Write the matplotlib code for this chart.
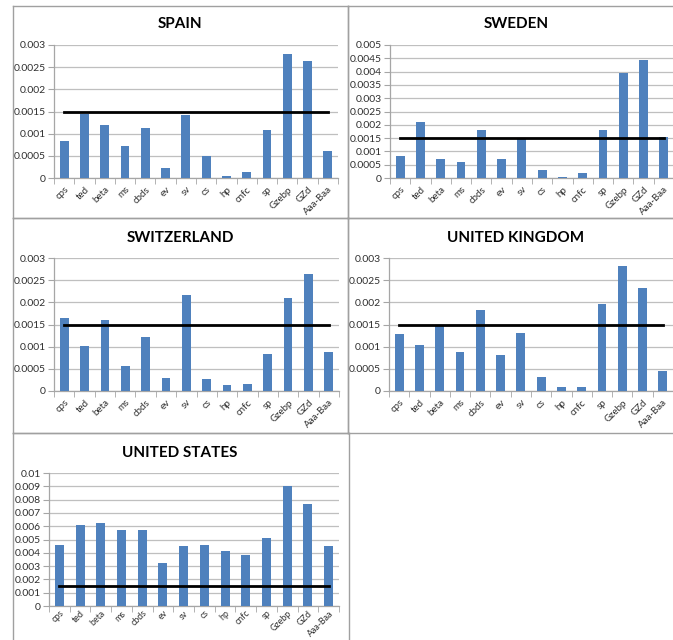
import matplotlib
matplotlib.use("Agg")
import matplotlib.pyplot as plt
from matplotlib.lines import Line2D
from matplotlib.ticker import FuncFormatter, MultipleLocator

categories = ["cps", "ted", "beta", "ms", "cbds", "ev", "sv", "cs", "hp",
              "cnfc", "sp", "Gzebp", "GZd", "Aaa-Baa"]

spain = [0.00083, 0.00144, 0.00120, 0.00073, 0.00113, 0.00022, 0.00142,
         0.00049, 0.00005, 0.00014, 0.00109, 0.00280, 0.00263, 0.00060]
sweden = [0.00083, 0.00210, 0.00070, 0.00060, 0.00182, 0.00070, 0.00150,
          0.00030, 0.00005, 0.00020, 0.00182, 0.00395, 0.00445, 0.00155]
switzerland = [0.00165, 0.00102, 0.00161, 0.00057, 0.00122, 0.00030, 0.00216,
               0.00028, 0.00013, 0.00016, 0.00083, 0.00210, 0.00265, 0.00087]
uk = [0.00128, 0.00104, 0.00150, 0.00087, 0.00182, 0.00082, 0.00130,
      0.00031, 0.00008, 0.00010, 0.00197, 0.00283, 0.00233, 0.00046]
us = [0.00455, 0.00610, 0.00622, 0.00575, 0.00575, 0.00322, 0.00450,
      0.00455, 0.00412, 0.00380, 0.00512, 0.00900, 0.00770, 0.00450]

threshold = 0.0015

panels = [
    # title, values, ymax, ystep, axes rect px (l, r, t, b), title pos, border (l, r, t, b), label pad, label size
    ("SPAIN", spain, 0.003, 0.0005, (54, 338, 45, 178), (180, 24), (13, 348, 6, 218), 5, 7),
    ("SWEDEN", sweden, 0.005, 0.0005, (390, 674, 45, 178), (516, 24), (348, 675, 6, 218), 5, 7),
    ("SWITZERLAND", switzerland, 0.003, 0.0005, (54, 339, 258, 391), (180, 238), (13, 348, 218, 433), 5, 7),
    ("UNITED KINGDOM", uk, 0.003, 0.0005, (389, 673, 258, 391), (516, 238), (348, 675, 218, 433), 5, 7),
    ("UNITED STATES", us, 0.01, 0.001, (49, 339, 473, 606), (180, 453), (13, 349, 433, 642), 2, 6.4),
]

W, H = 673, 640
fig = plt.figure(figsize=(W / 100, H / 100), dpi=100)
font = ["Lato", "DejaVu Sans"]
bar_color = "#4F81BD"
grid_color = "#BFBFBF"
axis_color = "#A6A6A6"

def fx(x):
    return x / W

def fy(y):
    return 1 - y / H

for title, vals, ymax, ystep, (l, r, t, b), (tx, ty), (bl, br, bt, bb), pad, lsize in panels:
    # panel border
    for xs, ys in [((bl, br), (bt, bt)), ((bl, br), (bb, bb)),
                   ((bl, bl), (bt, bb)), ((br, br), (bt, bb))]:
        fig.add_artist(Line2D([fx(xs[0]), fx(xs[1])], [fy(ys[0]), fy(ys[1])],
                              color="#A0A0A0", lw=1.0))
    ax = fig.add_axes([fx(l), fy(b), (r - l) / W, (b - t) / H])
    x = list(range(len(categories)))
    ax.bar(x, vals, width=0.43, color=bar_color, zorder=3)
    ax.plot([x[0], x[-1]], [threshold, threshold], color="black", lw=2, zorder=4)
    ax.set_xlim(-0.5, len(categories) - 0.5)
    ax.set_ylim(0, ymax)
    ax.yaxis.set_major_locator(MultipleLocator(ystep))
    ax.yaxis.set_major_formatter(FuncFormatter(lambda v, p: "0" if abs(v) < 1e-12 else "{:g}".format(round(v, 6))))
    ax.grid(axis="y", color=grid_color, lw=0.9, zorder=0)
    ax.set_axisbelow(True)
    for s in ["top", "right"]:
        ax.spines[s].set_visible(False)
    for s in ["left", "bottom"]:
        ax.spines[s].set_color(axis_color)
        ax.spines[s].set_linewidth(0.9)
    ax.set_xticks(x)
    ax.set_xticklabels(categories, rotation=45, ha="right", rotation_mode="anchor",
                       fontsize=lsize, family=font, color="#303030")
    ax.set_xticks([i - 0.5 for i in range(len(categories) + 1)], minor=True)
    ax.tick_params(axis="x", which="major", length=0, pad=pad)
    ax.tick_params(axis="x", which="minor", length=4, color=axis_color, direction="out")
    ax.tick_params(axis="y", length=4, color=axis_color, direction="out", pad=2)
    for lab in ax.get_yticklabels():
        lab.set_fontsize(7.5)
        lab.set_family(font)
        lab.set_color("#303030")
    fig.text(fx(tx), fy(ty), title, ha="center", va="center", fontsize=11,
             fontweight="bold", family=font, color="black")

fig.savefig("out.png", dpi=100)
